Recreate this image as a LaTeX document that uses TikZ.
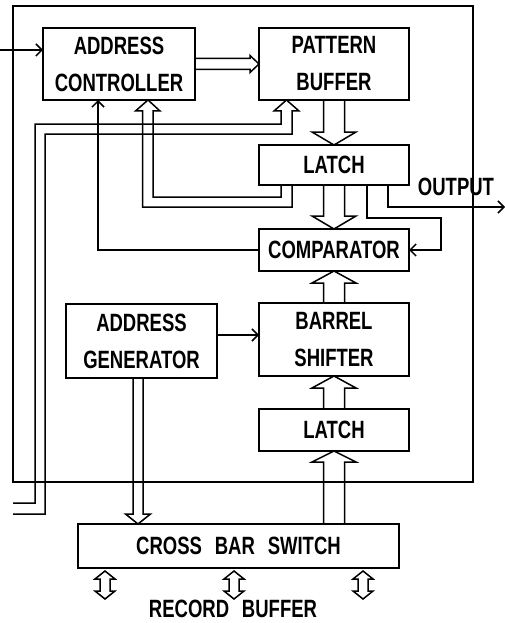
\documentclass[tikz,border=0pt]{standalone}
\usepackage{fontspec}
\usepackage{tikz}
\usetikzlibrary{arrows.meta,calc,positioning}
\newfontfamily\blockfont[FakeStretch=0.74,WordSpace=2.5]{Liberation Sans}

\begin{document}
\begin{tikzpicture}[
  x=1pt, y=-1pt,
  line width=1.5pt,
  font=\blockfont\bfseries\fontsize{25}{37}\selectfont,
  box/.style={draw, minimum width=150pt, minimum height=42pt, inner sep=0pt, outer sep=0pt, align=center},
  arr/.style={-{Straight Barb[length=6pt,width=12pt]}},
  bus/.style n args={3}{to path={let \p1=($(\tikztotarget)!#3!(\tikztostart)$) in
    ($(\tikztostart)!#1!90:(\tikztotarget)$) -- ($(\p1)!#1!-90:(\tikztostart)$) -- ($(\p1)!#2!-90:(\tikztostart)$)
    -- (\tikztotarget) -- ($(\p1)!#2!90:(\tikztostart)$) -- ($(\p1)!#1!90:(\tikztostart)$) -- ($(\tikztostart)!#1!-90:(\tikztotarget)$)}},
  bibus/.style n args={3}{to path={let \p1=($(\tikztotarget)!#3!(\tikztostart)$), \p2=($(\tikztostart)!#3!(\tikztotarget)$) in
    (\tikztostart) -- ($(\p2)!#2!90:(\tikztotarget)$) -- ($(\p2)!#1!90:(\tikztotarget)$) -- ($(\p1)!#1!-90:(\tikztostart)$)
    -- ($(\p1)!#2!-90:(\tikztostart)$) -- (\tikztotarget) -- ($(\p1)!#2!90:(\tikztostart)$) -- ($(\p1)!#1!90:(\tikztostart)$)
    -- ($(\p2)!#1!-90:(\tikztotarget)$) -- ($(\p2)!#2!-90:(\tikztotarget)$) -- cycle}}
]
\useasboundingbox (0,0) rectangle (505,623);
\draw (13,6) rectangle (473,482);
\node[box, minimum height=72pt] (pbuf) at (334,64) {PATTERN\\BUFFER};
\node[box, minimum height=40pt, below=45pt of pbuf] (latch1) {LATCH};
\node[box, below=44pt of latch1] (comp) {COMPARATOR};
\node[box, minimum height=73pt, below=32pt of comp] (barrel) {BARREL\\SHIFTER};
\node[box, below=33pt of barrel] (latch2) {LATCH};
\node[box, minimum width=152pt, minimum height=72pt, left=64pt of pbuf] (actrl) {ADDRESS\\CONTROLLER};
\node[box, minimum width=151pt, minimum height=74pt] (agen) at (141.5,341) {ADDRESS\\GENERATOR};
\node[box, minimum width=321pt, minimum height=44pt] (xbar) at (238.5,546) {CROSS BAR SWITCH};
\node (outlbl) at (456,187) {OUTPUT};
\node[inner sep=1pt] (rbuf) at (233,609) {RECORD BUFFER};
\coordinate (in) at (0,50);
\coordinate (out) at (505,207);
\coordinate (ext1) at (13,503);
\coordinate (ext2) at (13,514);
\coordinate (rb1) at (105,599);
\coordinate (rb2) at (234,599);
\coordinate (rb3) at (363,599);
\draw[arr] (in) -- (in -| actrl.west);
\draw[bus={5.5pt}{8.5pt}{9pt}] (actrl.east) to (pbuf.west);
\draw (ext1) -| (35,124) -| ($(pbuf.south)+(-53,11)$) -- ++(-7,0) -- ($(pbuf.south)+(-47.5,0)$)
  -- ++(12.5,11) -- ++(-7,0) |- (45,134) |- (ext2);
\draw ($(latch1.south)+(-53,0)$) |- (153,197) -- ($(actrl.south)+(34,11)$) -- ++(7,0)
  -- ($(actrl.south)+(29,0)$) -- ++(-12.5,11) -- ++(7,0) |- (292,207) -- ($(latch1.south)+(-42,0)$);
\draw[arr] (comp.west) -| ($(actrl.south)+(-21,0)$);
\draw[arr] ($(latch1.south)+(33,0)$) |- ($(comp.north east)+(32,-11)$) |- (comp.east);
\draw[arr] ($(latch1.south)+(54,0)$) |- (out);
\draw[arr] ($(agen.east)+(0,-6)$) -- ($(barrel.west)+(0,-4.5)$);
\draw[bus={10.5pt}{22pt}{13pt}] (pbuf.south) to (latch1.north);
\draw[bus={10.5pt}{22pt}{13pt}] (latch1.south) to (comp.north);
\draw[bus={10.5pt}{22pt}{12pt}] (barrel.north) to (comp.south);
\draw[bus={10.5pt}{22pt}{12pt}] (latch2.north) to (barrel.south);
\draw[bus={10.5pt}{22pt}{11pt}] (latch2.south |- xbar.north) to (latch2.south);
\draw[bus={5pt}{12.5pt}{10pt}] ($(agen.south)+(-3.5,0)$) to ($(xbar.north)+(-100.5,0)$);
\foreach \c in {rb1,rb2,rb3}
  \draw[bibus={5pt}{10pt}{8pt}] ($(\c |- xbar.south)+(0,3)$) to (\c);
\end{tikzpicture}
\end{document}
